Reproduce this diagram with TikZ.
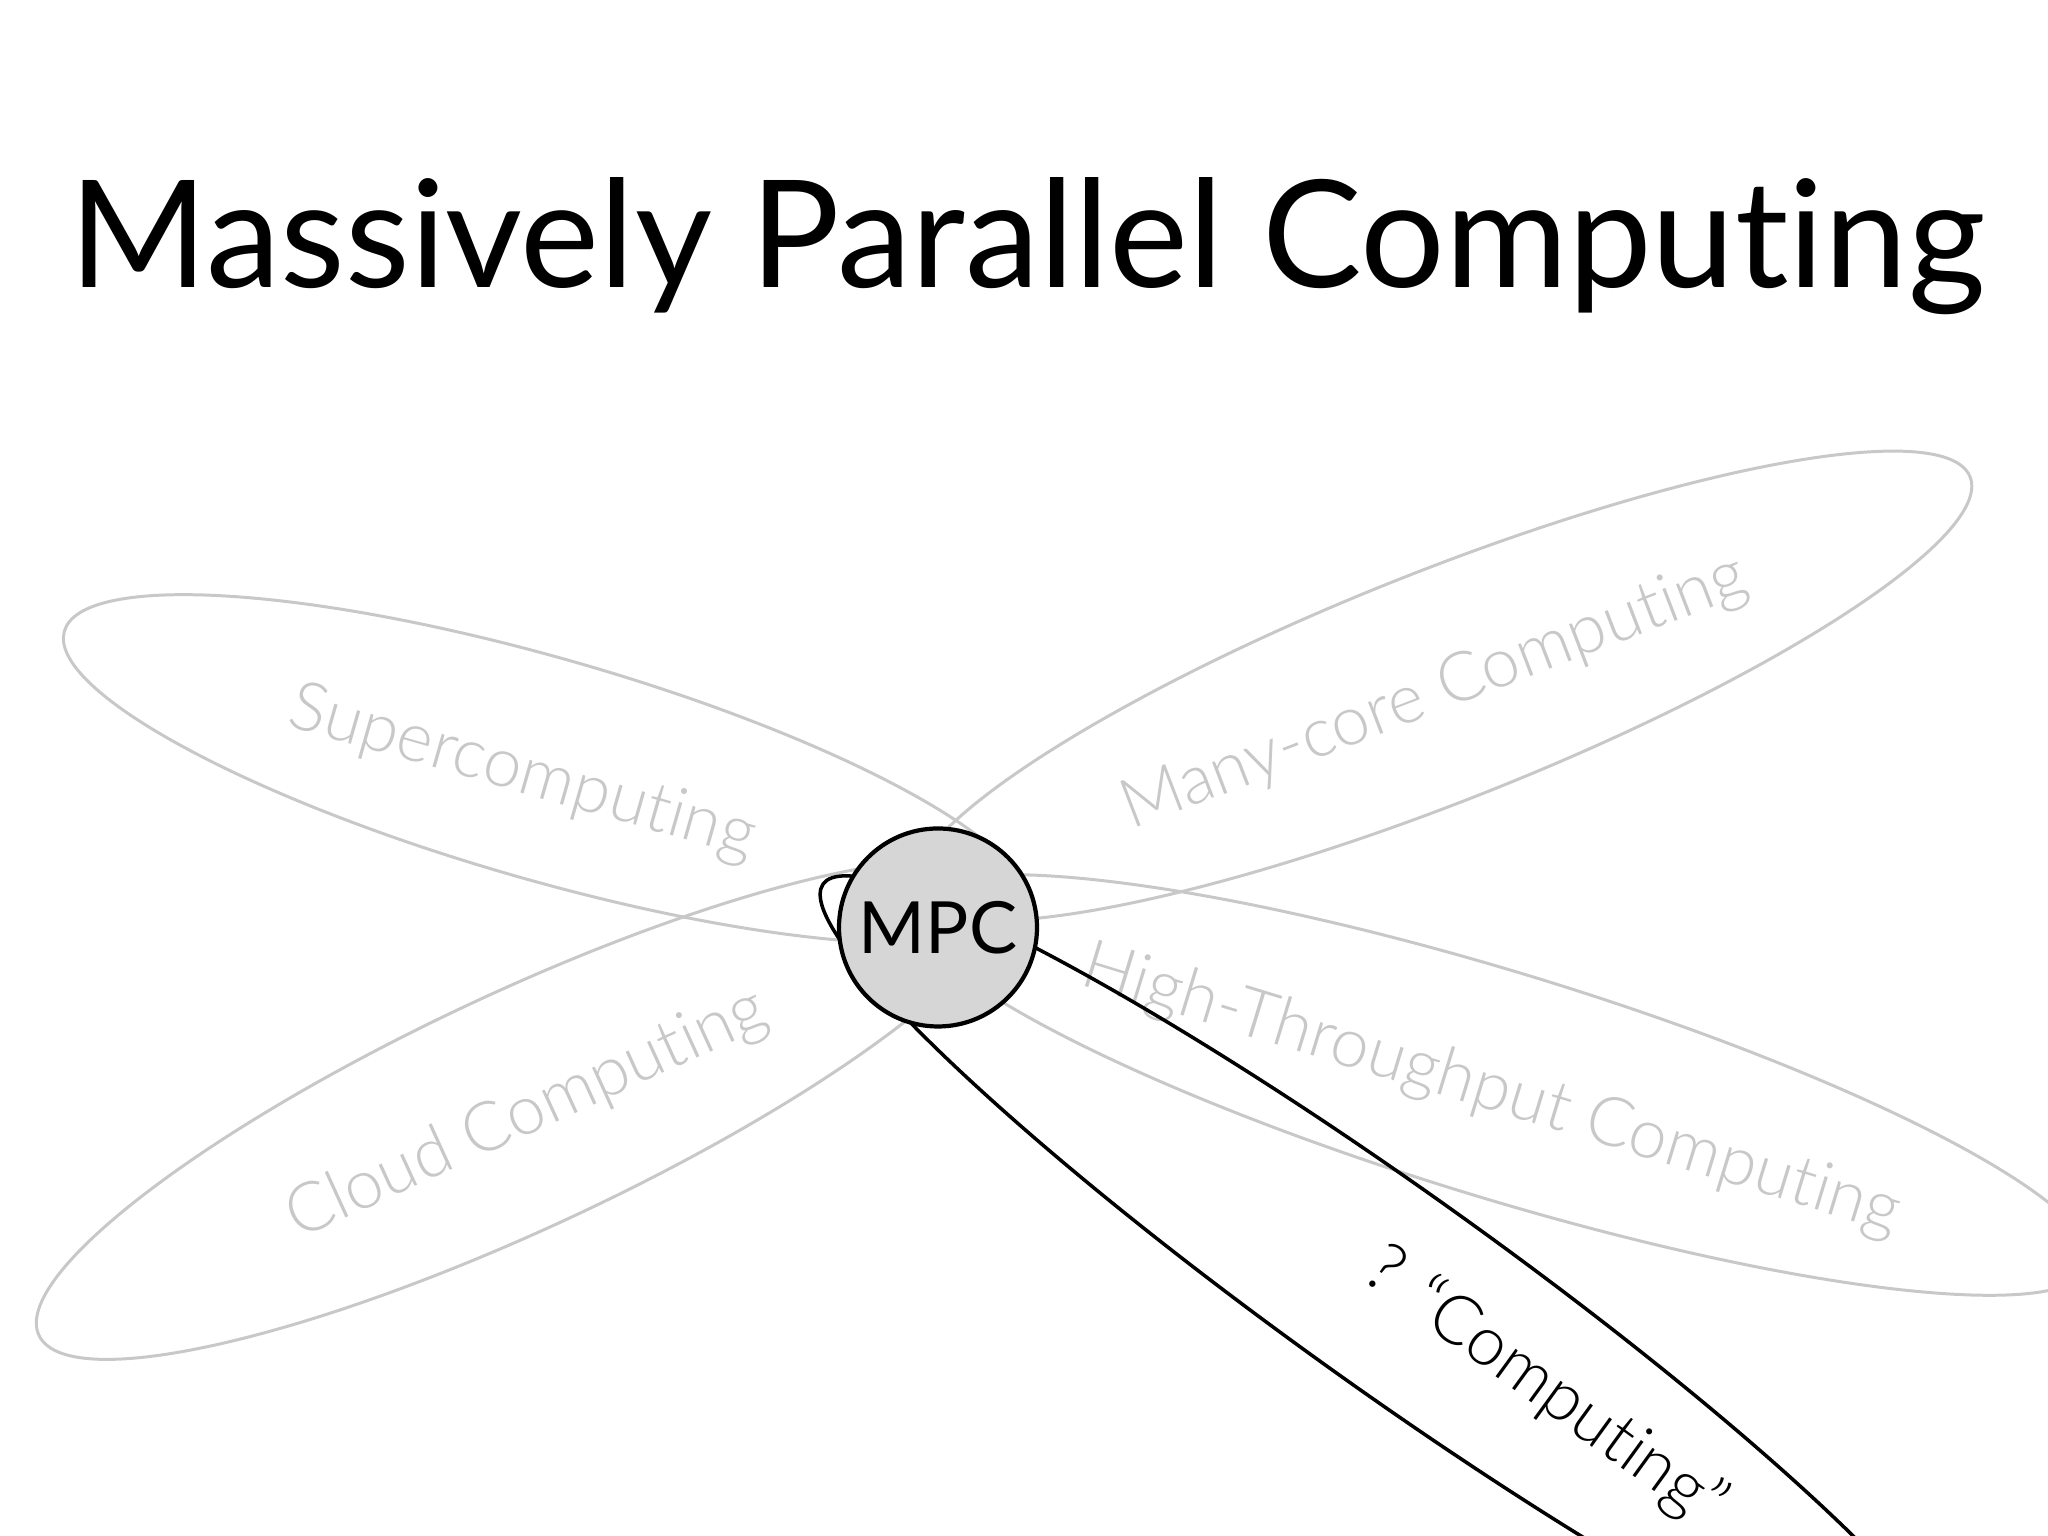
\documentclass[tikz,border=0pt]{standalone}
\usepackage{fontspec}
\setmainfont{Lato}[Ligatures=NoCommon]
\newfontfamily\thinfont{Lato Light}[Ligatures=NoCommon]
\usetikzlibrary{shapes.geometric, positioning}
\definecolor{petalgray}{RGB}{200, 200, 200}
\definecolor{hubgray}{RGB}{214, 214, 214}

\tikzset{
    petal/.style={ellipse, draw=petalgray, line width=0.85pt, inner sep=0pt},
    petaltext/.style={text=petalgray, inner sep=0pt, font=\thinfont\fontsize{19.5}{22}\selectfont},
    openpetal/.style={ellipse, draw=black, line width=1pt, inner sep=0pt},
    hub/.style={circle, draw=black, fill=hubgray, line width=1.2pt, minimum size=1.98cm,
                inner sep=0pt, font=\fontsize{20.5}{24}\selectfont}
}

\begin{document}
\begin{tikzpicture}
    \clip (0,0) rectangle (20.48,15.36);
    \fill[white] (0,0) rectangle (20.48,15.36);

    \node[anchor=base, font=\fontsize{42.5}{50}\selectfont] (title) at (10.275,12.48) {Massively Parallel Computing};

    % the four known fields
    \node[petal, minimum width=10cm, minimum height=2.22cm, rotate=-16] (super) at (5.45,7.67) {};
    \node[petal, minimum width=11.36cm, minimum height=2.30cm, rotate=21.6] (manycore) at (14.42,8.50) {};
    \node[petal, minimum width=10.66cm, minimum height=2.36cm, rotate=25] (cloud) at (5.22,4.26) {};
    \node[petal, minimum width=12.34cm, minimum height=2.26cm, rotate=-17] (htc) at (15.00,4.51) {};

    \node[petaltext, rotate=-16] (supertxt) at (5.22,7.62) {Supercomputing};
    \node[petaltext, rotate=21] (manytxt) at (14.35,8.42) {Many-core Computing};
    \node[petaltext, rotate=24.5] (cloudtxt) at (5.27,4.21) {Cloud Computing};
    \node[petaltext, rotate=-17] (htctxt) at (14.91,4.45) {High-Throughput Computing};

    % the open one
    \node[openpetal, minimum width=14cm, minimum height=2cm, rotate=-35.5] (unknown) at (13.93,2.455) {};
    \node[inner sep=0pt, rotate=-36, font=\thinfont\fontsize{19.5}{22}\selectfont] (unknowntxt) at (15.45,1.48) {? “Computing”};

    \node[hub] (mpc) at (9.38,6.085) {MPC};
\end{tikzpicture}
\end{document}
